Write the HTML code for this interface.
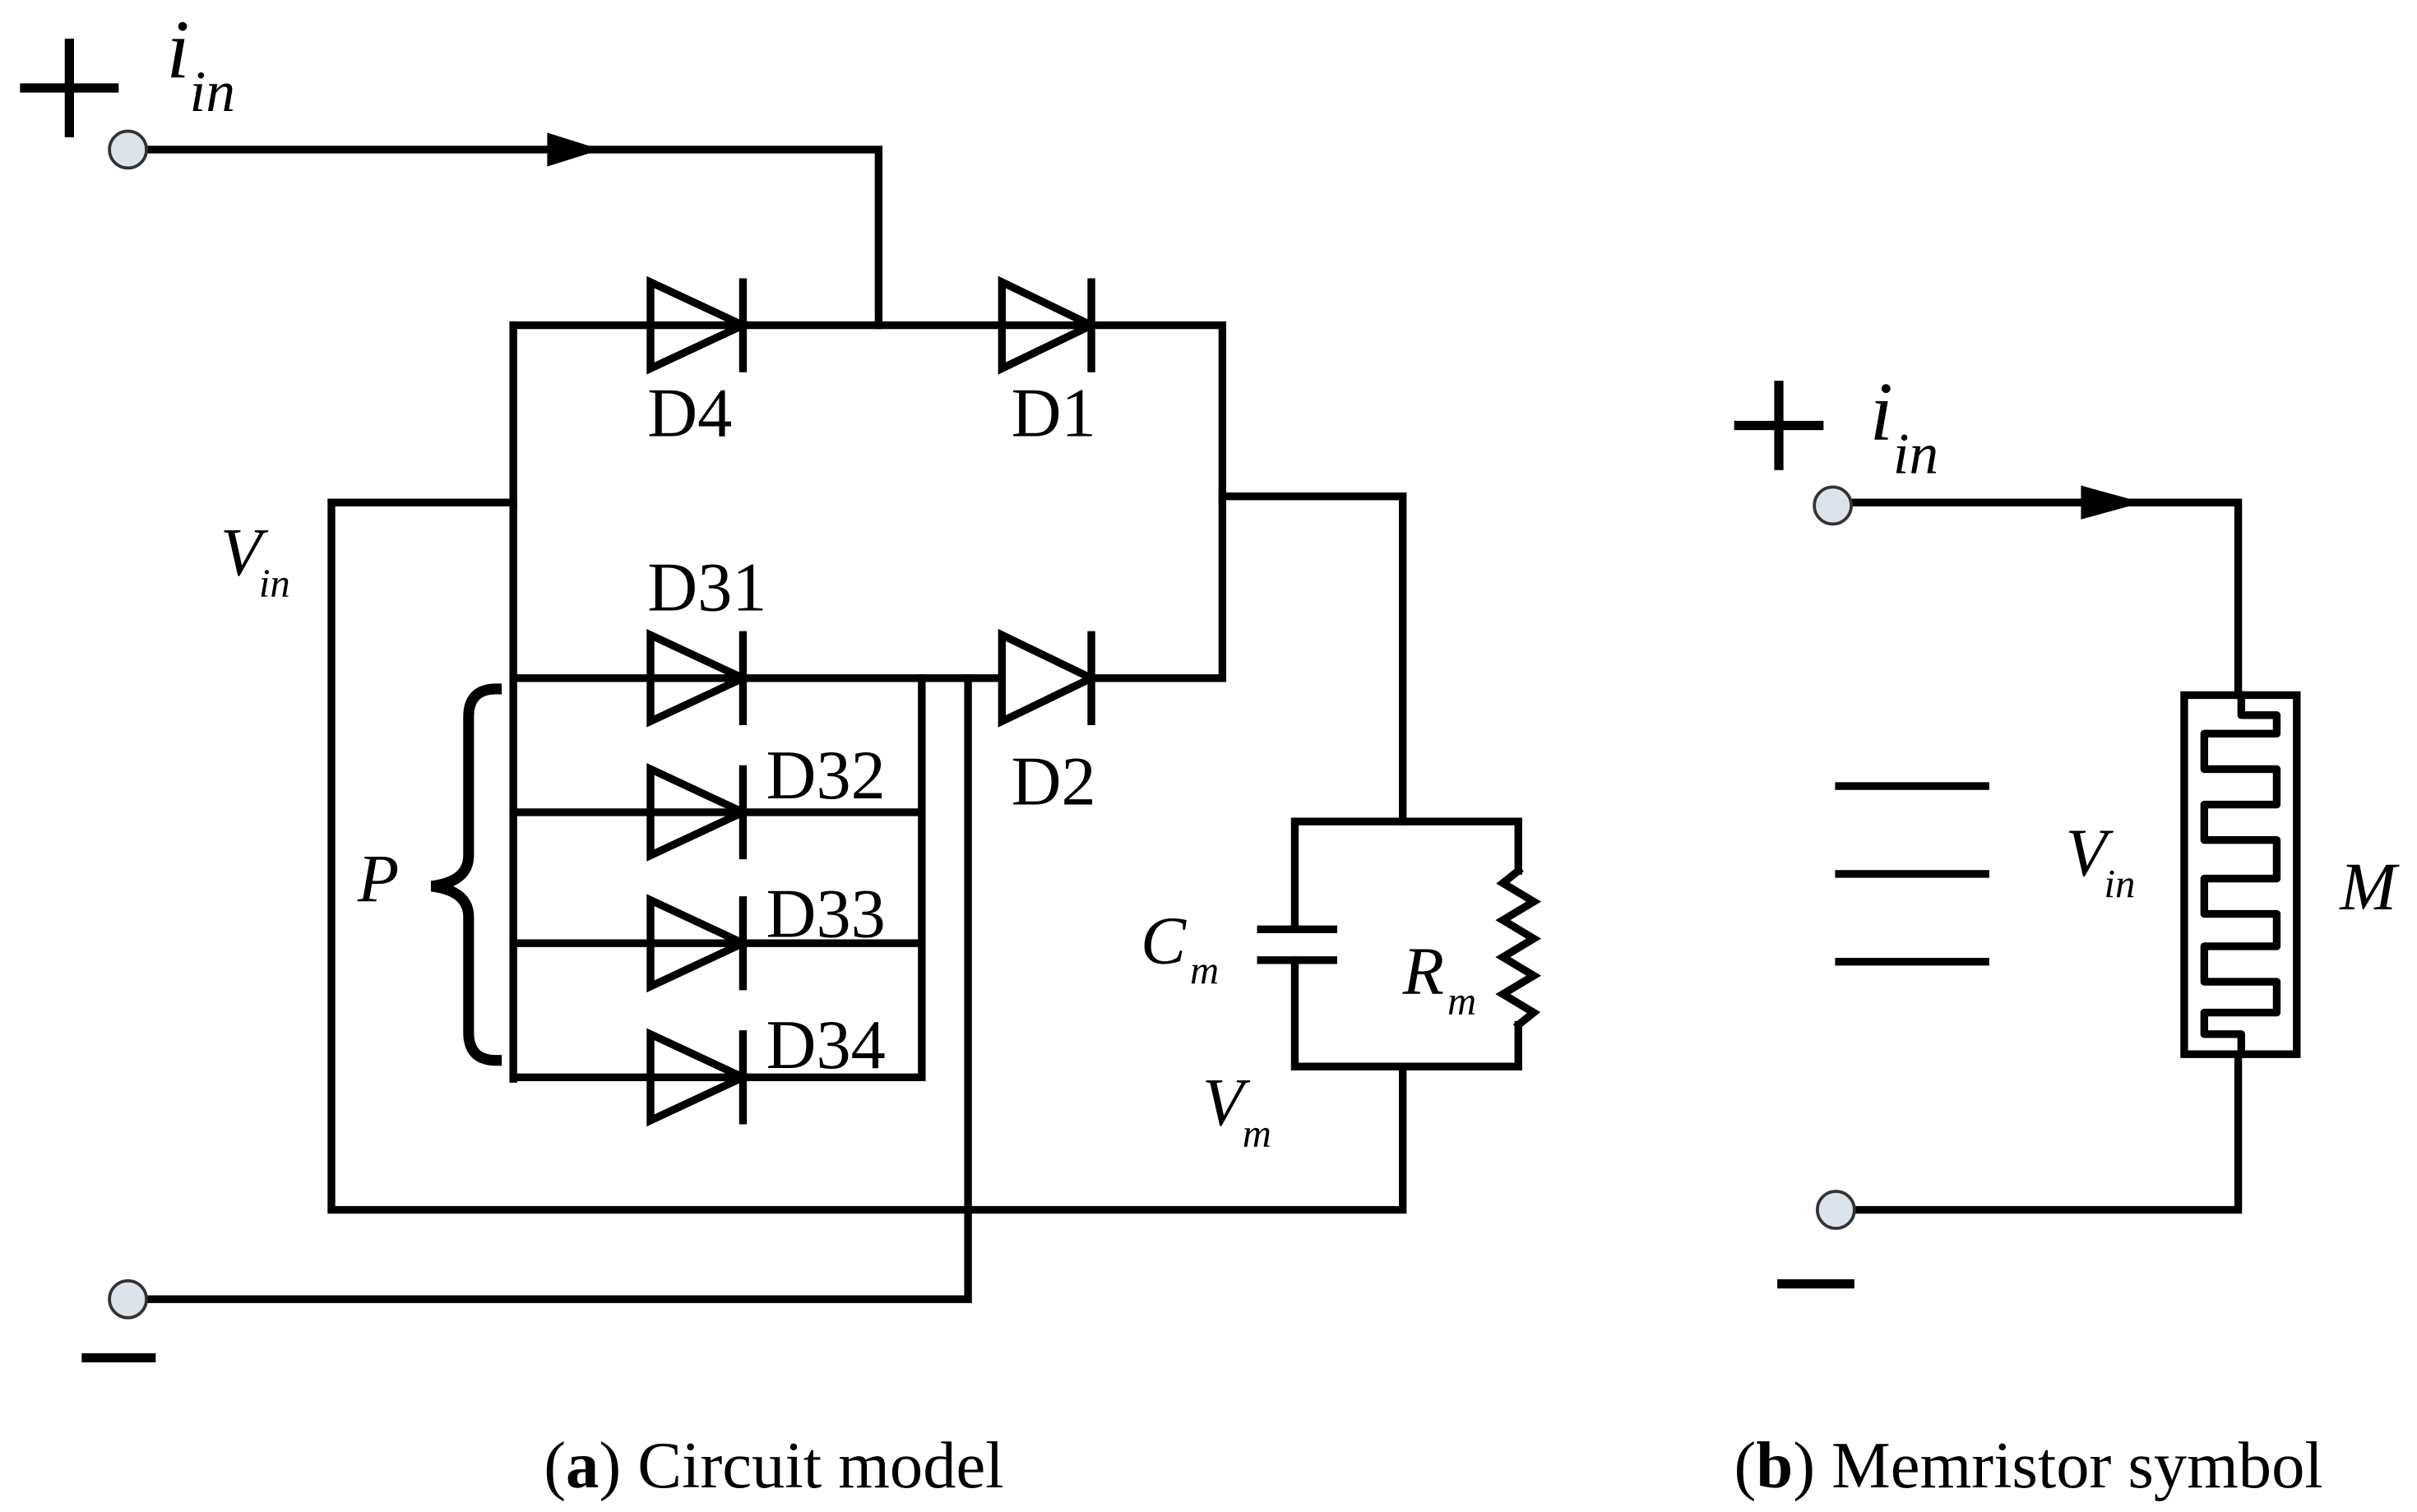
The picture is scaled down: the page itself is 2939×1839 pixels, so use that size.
<!DOCTYPE html>
<html><head><style>html,body{margin:0;padding:0;background:#fff}svg{display:block}</style></head>
<body>
<svg width="2939" height="1839" viewBox="0 0 1568 981" xmlns="http://www.w3.org/2000/svg">
<g stroke="#000" stroke-width="5" fill="none" stroke-linecap="square">
<path d="M95 97 H570 V211"/>
<path d="M333 211 H793 V440 H708"/>
<path d="M648 440 H333"/>
<path d="M333 211 V700"/>
<path d="M333 527 H598 M333 612 H598 M333 699 H598 M598 440 V699"/>
<path d="M628 440 V843 H95"/>
<path d="M333 326 H215 V785 H910 V692"/>
<path d="M793 322 H910 V533"/>
<path d="M840 533 H985 V565 M985 665 V692 H840 V623 M840 603 V533"/>
<path d="M818 603 H865 M818 623 H865"/>
<path d="M985 565 L975 573 L995 585 L975 597 L995 609 L975 621 L995 633 L975 645 L995 657 L985 665" stroke-linejoin="miter"/>
<g stroke-linejoin="miter">
<path d="M422 183 L482 211 L422 239 Z M482 183 V239"/>
<path d="M650 183 L708 211 L650 239 Z M708 183 V239"/>
<path d="M422 412 L482 440 L422 468 Z M482 412 V468"/>
<path d="M650 412 L708 440 L650 468 Z M708 412 V468"/>
<path d="M422 499 L482 527 L422 555 Z M482 499 V555"/>
<path d="M422 584 L482 612 L422 640 Z M482 584 V640"/>
<path d="M422 671 L482 699 L422 727 Z M482 671 V727"/>
</g>
<path d="M322 447 Q304 447 304 465 V555 Q304 572 280 575 Q304 578 304 595 V670 Q304 688 322 688" stroke-width="7"/>
<path d="M1201 326 H1452 V451"/>
<path d="M1452 684 V785 H1203"/>
<rect x="1417" y="451" width="73" height="233"/>
<path d="M1454 451 V464 H1477 V476 H1430 V499 H1477 V522 H1430 V545 H1477 V570 H1430 V593 H1477 V614 H1430 V637 H1477 V657 H1430 V671 H1454 V684" stroke-linejoin="round"/>
<path d="M1193 510 H1288 M1193 567 H1288 M1193 624 H1288"/>
<path d="M16 57 H74 M45 28 V86" stroke-width="6"/>
<path d="M56 881 H98" stroke-width="6"/>
<path d="M1128 276 H1180 M1154 250 V302" stroke-width="6"/>
<path d="M1156 833 H1200" stroke-width="6"/>
</g>
<path d="M355 86 L390 97 L355 108 Z" fill="#000"/>
<path d="M1350 315 L1390 326 L1350 337 Z" fill="#000"/>
<g fill="#dde3ea" stroke="#333" stroke-width="2">
<circle cx="83" cy="97" r="12"/><circle cx="83" cy="843" r="12"/>
<circle cx="1189" cy="328" r="12"/><circle cx="1191" cy="785" r="12"/>
</g>
<g font-family="Liberation Serif, serif" fill="#000">
<text x="108" y="50" font-size="54" font-style="italic">i</text><text x="123" y="72" font-size="38" font-style="italic">in</text>
<text x="1213" y="285" font-size="54" font-style="italic">i</text><text x="1228" y="307" font-size="38" font-style="italic">in</text>
<g font-size="45">
<text x="420" y="283">D4</text><text x="656" y="283">D1</text>
<text x="420" y="396">D31</text><text x="656" y="522">D2</text>
<text x="497" y="518">D32</text><text x="497" y="608">D33</text><text x="497" y="693">D34</text>
</g>
<text x="143" y="373" font-size="44" font-style="italic">V</text><text x="168" y="387" font-size="26" font-style="italic">in</text>
<text x="232" y="585" font-size="44" font-style="italic">P</text>
<text x="740" y="625" font-size="44" font-style="italic">C</text><text x="772" y="638" font-size="26" font-style="italic">m</text>
<text x="910" y="645" font-size="44" font-style="italic">R</text><text x="939" y="658" font-size="26" font-style="italic">m</text>
<text x="780" y="730" font-size="44" font-style="italic">V</text><text x="806" y="744" font-size="26" font-style="italic">m</text>
<text x="1340" y="568" font-size="44" font-style="italic">V</text><text x="1365" y="582" font-size="26" font-style="italic">in</text>
<text x="1518" y="590" font-size="44" font-style="italic">M</text>
<text x="502" y="965" font-size="43" text-anchor="middle">(<tspan font-weight="bold">a</tspan>) Circuit model</text>
<text x="1316" y="965" font-size="43" text-anchor="middle">(<tspan font-weight="bold">b</tspan>) Memristor symbol</text>
</g>
</svg>
</body></html>
